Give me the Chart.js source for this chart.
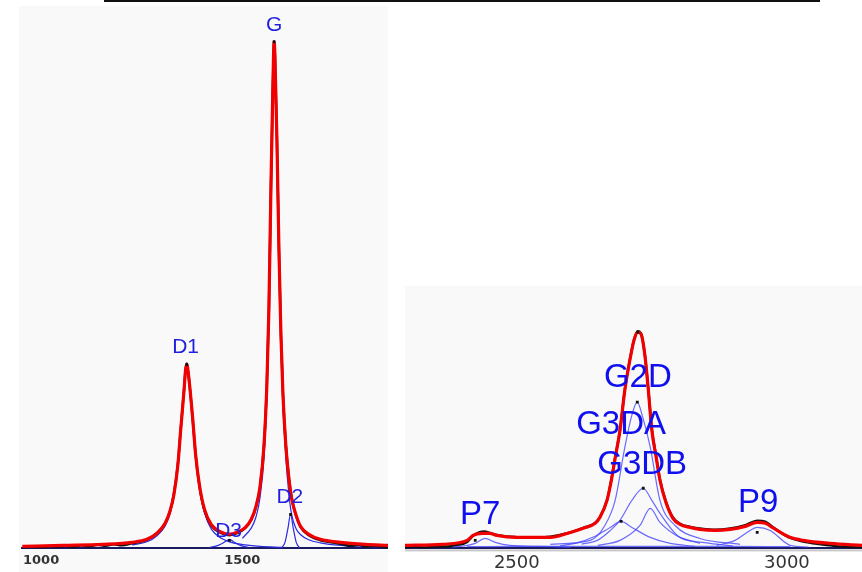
<!DOCTYPE html>
<html>
<head>
<meta charset="utf-8">
<script src="https://cdn.jsdelivr.net/npm/chart.js@4.4.1/dist/chart.umd.min.js"></script>
<style>
  html, body { margin: 0; padding: 0; background: #fff; width: 862px; height: 572px; overflow: hidden; }
  #rule { position: absolute; left: 104px; top: 0; width: 716px; height: 2px; background: #111; }
  #left { position: absolute; left: 19px; top: 6px; }
  #right { position: absolute; left: 405px; top: 286px; }
</style>
</head>
<body>
<div id="rule"></div>
<canvas id="left" width="369" height="566"></canvas>
<canvas id="right" width="457" height="292"></canvas>
<script>
// ---------- first-order region (D / G bands), [wavenumber, intensity] ----------
const firstOrderTicks = [1000, 1500];

const firstOrderMeasured = [
  [953,1],[975,3],[1000,2],[1020,4],[1040,3],[1060,5],[1080,3],[1100,6],[1120,4],[1140,7],
  [1160,5],[1180,8],[1200,6],[1226,10],[1263,17],[1288,30],[1308,50],[1320,72],[1330,108],
  [1340,168],[1347,236],[1355,312],[1359,352],[1362,365],[1364,356],[1369,322],[1377,252],
  [1384,184],[1394,120],[1406,75],[1423,45],[1448,30],[1468,26],[1487,30],[1507,40],[1522,56],
  [1534,82],[1544,121],[1554,206],[1561,325],[1566,470],[1571,706],[1576,914],[1579,1002],
  [1581,975],[1586,806],[1591,590],[1596,421],[1601,305],[1608,206],[1616,138],[1623,98],
  [1633,66],[1645,42],[1665,26],[1694,16],[1720,12],[1744,9],[1770,5],[1790,7],[1805,4],
  [1830,5],[1862,2]
];

const firstOrderFit = [
  [953,4],[1054,6],[1152,8],[1226,12],[1263,18],[1288,30],[1308,49],[1320,73],[1330,106],
  [1340,166],[1347,235],[1355,310],[1359,353],[1362,363],[1364,357],[1369,323],[1377,254],
  [1384,185],[1394,122],[1406,77],[1423,47],[1448,32],[1468,28],[1487,32],[1507,41],[1522,57],
  [1534,83],[1544,122],[1554,205],[1561,323],[1566,471],[1571,708],[1576,915],[1579,1000],
  [1581,974],[1586,807],[1591,590],[1596,422],[1601,304],[1608,205],[1616,136],[1623,97],
  [1633,67],[1645,43],[1665,28],[1694,18],[1744,12],[1805,8],[1862,6]
];

const bandD1 = [
  [1226,7],[1263,13],[1288,25],[1308,44],[1320,68],[1330,102],[1340,162],[1347,232],[1355,307],
  [1362,360],[1369,320],[1377,250],[1384,180],[1394,116],[1406,70],[1423,38],[1448,20],
  [1468,13],[1507,7],[1544,4],[1600,2]
];
const bandG = [
  [1500,20],[1522,40],[1534,62],[1544,100],[1554,180],[1561,300],[1566,455],[1571,700],
  [1576,910],[1579,995],[1581,970],[1586,800],[1591,580],[1596,410],[1601,285],[1608,180],
  [1616,105],[1623,65],[1633,40],[1645,27],[1665,17],[1694,11],[1744,6],[1805,4],[1862,3]
];
const bandD3 = [[1420,2],[1440,6],[1455,12],[1468,18],[1480,12],[1495,6],[1515,2]];
const bandD2 = [[1598,1],[1606,12],[1613,38],[1620,67],[1627,38],[1634,12],[1642,1]];

const firstOrderPeaks = [[1579,1000],[1362,363],[1620,67],[1468,16]];
const firstOrderNames = ['G', 'D1', 'D2', 'D3'];
const firstOrderNamePos = [[1579,1033],[1359,398],[1618,101],[1466,34]];

// ---------- second-order region (2D / overtones), [wavenumber, intensity] ----------
const secondOrderTicks = [2500, 3000];

const secondOrderMeasured = [
  [2293,5],[2310,9],[2330,4],[2350,10],[2363,8],[2385,14],[2408,30],[2419,58],[2430,74],
  [2440,78],[2450,72],[2463,62],[2480,55],[2500,52],[2530,50],[2562,54],[2593,70],[2623,95],
  [2645,118],[2654,146],[2667,224],[2675,318],[2682,420],[2691,548],[2700,735],[2710,882],
  [2717,965],[2724,1004],[2730,992],[2737,896],[2743,748],[2750,550],[2758,425],[2765,318],
  [2776,216],[2789,143],[2802,114],[2821,99],[2839,92],[2867,86],[2895,92],[2923,108],
  [2945,128],[2960,124],[2973,100],[2988,74],[3006,48],[3030,32],[3060,20],[3080,14],
  [3100,8],[3120,5],[3139,4]
];

const secondOrderFit = [
  [2293,14],[2363,19],[2408,37],[2419,60],[2436,69],[2450,69],[2463,60],[2500,51],[2562,51],
  [2593,69],[2623,93],[2645,116],[2654,144],[2667,222],[2675,315],[2682,417],[2691,546],
  [2700,732],[2710,880],[2717,963],[2724,1000],[2730,991],[2737,894],[2743,745],[2750,546],
  [2758,421],[2765,315],[2776,213],[2789,139],[2802,111],[2821,97],[2839,88],[2867,83],
  [2895,88],[2923,102],[2945,120],[2960,116],[2973,97],[2988,74],[3006,51],[3030,37],
  [3080,23],[3139,14]
];

const band2DMain = [
  [2562,19],[2636,37],[2663,106],[2682,222],[2700,468],[2713,616],[2723,676],[2732,616],
  [2747,468],[2765,222],[2793,106],[2839,46],[2913,19]
];
const band3DB = [[2620,20],[2649,37],[2673,83],[2691,130],[2713,222],[2734,278],[2750,222],[2765,162],[2797,60],[2839,23]];
const band3DLow = [[2580,12],[2608,23],[2645,56],[2673,97],[2693,125],[2713,97],[2747,51],[2784,23],[2830,10]];
const band3DA = [[2650,14],[2691,37],[2728,106],[2747,185],[2765,120],[2802,51],[2858,23],[2900,12]];
const bandP7 = [[2380,6],[2395,9],[2423,23],[2441,46],[2460,28],[2487,14],[2543,9],[2600,6]];
const bandP9 = [[2870,14],[2904,37],[2932,83],[2945,97],[2969,83],[3006,14],[3040,6]];
const secondOrderBaseline = [[2408,8],[2500,9],[2600,9],[2700,9],[2800,9],[2900,9],[3006,8]];

const secondOrderPeaks = [[2724,1000],[2723,676],[2734,278],[2693,125],[2945,74],[2423,37]];
const secondOrderNames = ['G2D', 'G3DA', 'G3DB', 'P7', 'P9'];
const secondOrderNamePos = [[2724,787],[2693,569],[2732,384],[2432,157],[2947,208]];

// ---------- helpers ----------
const pts = arr => arr.map(([x, y]) => ({ x, y }));

const panelBackground = {
  id: 'panelBackground',
  beforeDraw(chart, args, opts) {
    const { ctx, chartArea: a } = chart;
    ctx.save();
    ctx.fillStyle = opts.color;
    if (opts.full) ctx.fillRect(0, 0, chart.width, chart.height);
    else ctx.fillRect(a.left, a.top, a.right - a.left, a.bottom - a.top);
    if (opts.underline) {
      ctx.fillStyle = opts.underline;
      ctx.fillRect(a.left, a.bottom + 1, a.right - a.left, 2);
    }
    ctx.restore();
  }
};

const peakNames = {
  id: 'peakNames',
  afterDatasetsDraw(chart, args, opts) {
    const { ctx, scales: { x, y } } = chart;
    ctx.save();
    ctx.font = opts.font;
    ctx.fillStyle = opts.color;
    ctx.textAlign = 'center';
    ctx.textBaseline = 'middle';
    opts.names.forEach((n, i) => {
      ctx.fillText(n, x.getPixelForValue(opts.pos[i][0]), y.getPixelForValue(opts.pos[i][1]));
    });
    ctx.restore();
  }
};

function lineSet(data, color, width, order) {
  return {
    data: pts(data), borderColor: color, borderWidth: width, pointRadius: 0,
    cubicInterpolationMode: 'monotone', fill: false, order
  };
}

function buildChart(id, cfg) {
  return new Chart(document.getElementById(id), {
    type: 'line',
    data: {
      datasets: [
        { data: pts(cfg.peaks), showLine: false, pointStyle: 'rect', pointRadius: 2,
          pointBackgroundColor: '#111', pointBorderWidth: 0, order: 0 },
        lineSet(cfg.fit, '#f00000', 3.2, 1),
        lineSet(cfg.measured, '#101010', 2.4, 2),
        ...cfg.bands.map(b => lineSet(b, cfg.bandColor, 1.2, 3))
      ]
    },
    options: {
      responsive: false,
      animation: false,
      layout: { padding: 0, autoPadding: false },
      plugins: {
        legend: { display: false },
        tooltip: { enabled: false },
        panelBackground: { color: '#f9f9f9', full: cfg.fullBg, underline: cfg.underline },
        peakNames: { names: cfg.names, pos: cfg.namePos, font: cfg.nameFont, color: cfg.nameColor }
      },
      scales: {
        x: {
          type: 'linear', min: cfg.xMin, max: cfg.xMax,
          afterBuildTicks: s => { s.ticks = cfg.ticks.map(v => ({ value: v })); },
          ticks: { callback: v => String(v), font: cfg.tickFont, color: '#333', padding: cfg.tickPad, maxRotation: 0 },
          grid: { display: false, drawTicks: false },
          border: { display: true, color: '#1a1a60', width: 2 }
        },
        y: { display: false, min: 0, max: cfg.yMax }
      }
    },
    plugins: [panelBackground, peakNames]
  });
}

buildChart('left', {
  peaks: firstOrderPeaks, fit: firstOrderFit, measured: firstOrderMeasured,
  bands: [bandD1, bandG, bandD3, bandD2], bandColor: '#2a2ae0',
  names: firstOrderNames, namePos: firstOrderNamePos,
  nameFont: '21px "Liberation Sans", Arial, sans-serif', nameColor: '#1f1fe0',
  xMin: 953, xMax: 1862, yMax: 1071, ticks: firstOrderTicks,
  tickFont: { family: 'DejaVu Sans', size: 13, weight: 'bold' }, tickPad: 4,
  fullBg: true, underline: null
});

buildChart('right', {
  peaks: secondOrderPeaks, fit: secondOrderFit, measured: secondOrderMeasured,
  bands: [band2DMain, band3DB, band3DLow, band3DA, bandP7, bandP9, secondOrderBaseline],
  bandColor: 'rgba(70,70,255,0.8)',
  names: secondOrderNames, namePos: secondOrderNamePos,
  nameFont: '33px "Liberation Sans", Arial, sans-serif', nameColor: '#1010ee',
  xMin: 2293, xMax: 3139, yMax: 1213, ticks: secondOrderTicks,
  tickFont: { family: 'DejaVu Sans', size: 18 }, tickPad: 4,
  fullBg: false, underline: '#c8c8c8'
});
</script>
</body>
</html>
